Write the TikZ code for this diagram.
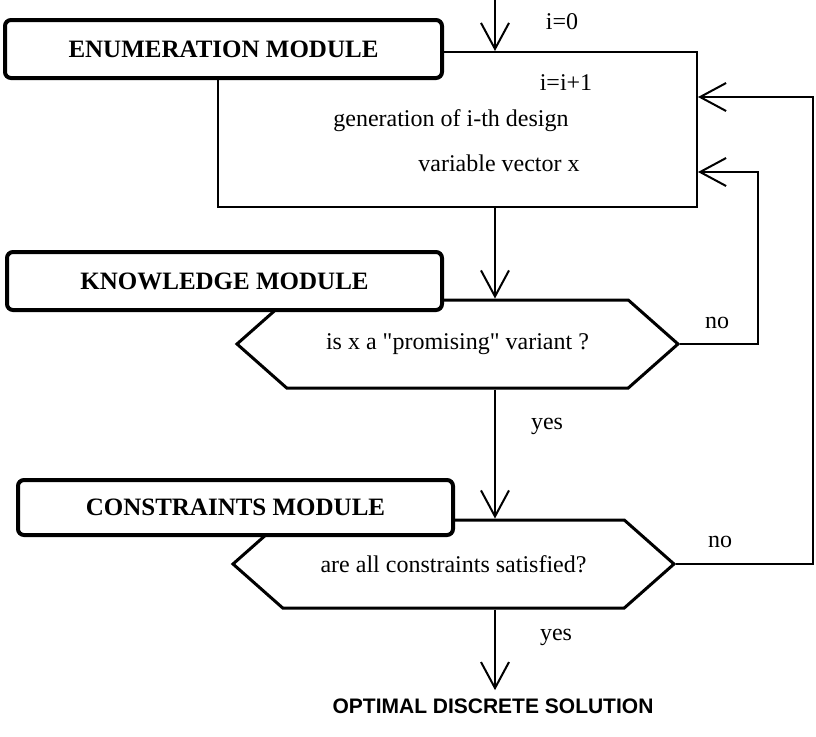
\documentclass[tikz,border=0pt]{standalone}
\usepackage{fontspec}
\setmainfont{Liberation Serif}
\setsansfont{Liberation Sans}
\usetikzlibrary{shapes.symbols,arrows.meta,calc}

\begin{document}
\begin{tikzpicture}[x=0.5pt, y=-0.5pt,
    module/.style={draw, line width=2pt, rounded corners=3pt, fill=white, minimum height=29pt, font=\fontsize{12.5}{14}\selectfont\bfseries},
    decision/.style={draw, line width=1.5pt, signal, signal to=east and west, signal pointer angle=83, minimum width=220.5pt, minimum height=44pt, fill=white, font=\fontsize{12}{14}\selectfont},
    region/.style={draw, line width=1pt, minimum width=239.5pt, minimum height=77.5pt},
    txt/.style={font=\fontsize{12}{14}\selectfont, inner sep=0pt},
    arrow/.style={-{Straight Barb[length=13pt, width=14pt]}, line width=1pt}
]
\useasboundingbox (0,0) rectangle (816,736);

% Enumeration module
\node[region] (gen) at (457.5, 129.5) {};
\node[module, minimum width=218.5pt] (enum) at (223.5, 49) {ENUMERATION MODULE};
\node[txt] (geni) at (451, 121) {generation of i-th design};
\node[txt] (vecx) at (499, 163) {variable vector x};
\node[txt] (izero) at (562, 22) {i=0};
\node[txt] (inext) at (566, 83) {i=i+1};

% Knowledge module
\node[decision] (promising) at (457.5, 344) {is x a \textquotedbl promising\textquotedbl{} variant ?};
\node[module, minimum width=217.5pt] (know) at (224.5, 281) {KNOWLEDGE MODULE};

% Constraints module
\node[decision] (satisfied) at (453.5, 564) {are all constraints satisfied?};
\node[module, minimum width=217.5pt, minimum height=27.5pt] (cons) at (235.5, 507.5) {CONSTRAINTS MODULE};

% Result
\node[font=\fontsize{10.5}{12}\sffamily\bfseries, inner sep=4pt] (solution) at (493, 706) {OPTIMAL DISCRETE SOLUTION};

% Labels
\node[txt] (no1) at (717, 323) {no};
\node[txt] (no2) at (720, 542) {no};
\node[txt] (yes1) at (547, 426) {yes};
\node[txt] (yes2) at (556, 637) {yes};

% Main flow
\coordinate (flow) at (495, 0);
\draw[arrow] (flow) -- (flow |- gen.north);
\draw[arrow] (flow |- gen.south) -- (flow |- promising.north);
\draw[arrow] (flow |- promising.south) -- (flow |- satisfied.north);
\draw[arrow] (flow |- satisfied.south) -- (flow |- solution.north);

% Loops back
\coordinate (inner) at (758, 172);
\coordinate (outer) at (813, 97);
\draw[arrow] (promising.east) -| (inner) -- (inner -| gen.east);
\draw[arrow] (satisfied.east) -| (outer) -- (outer -| gen.east);

\end{tikzpicture}
\end{document}
